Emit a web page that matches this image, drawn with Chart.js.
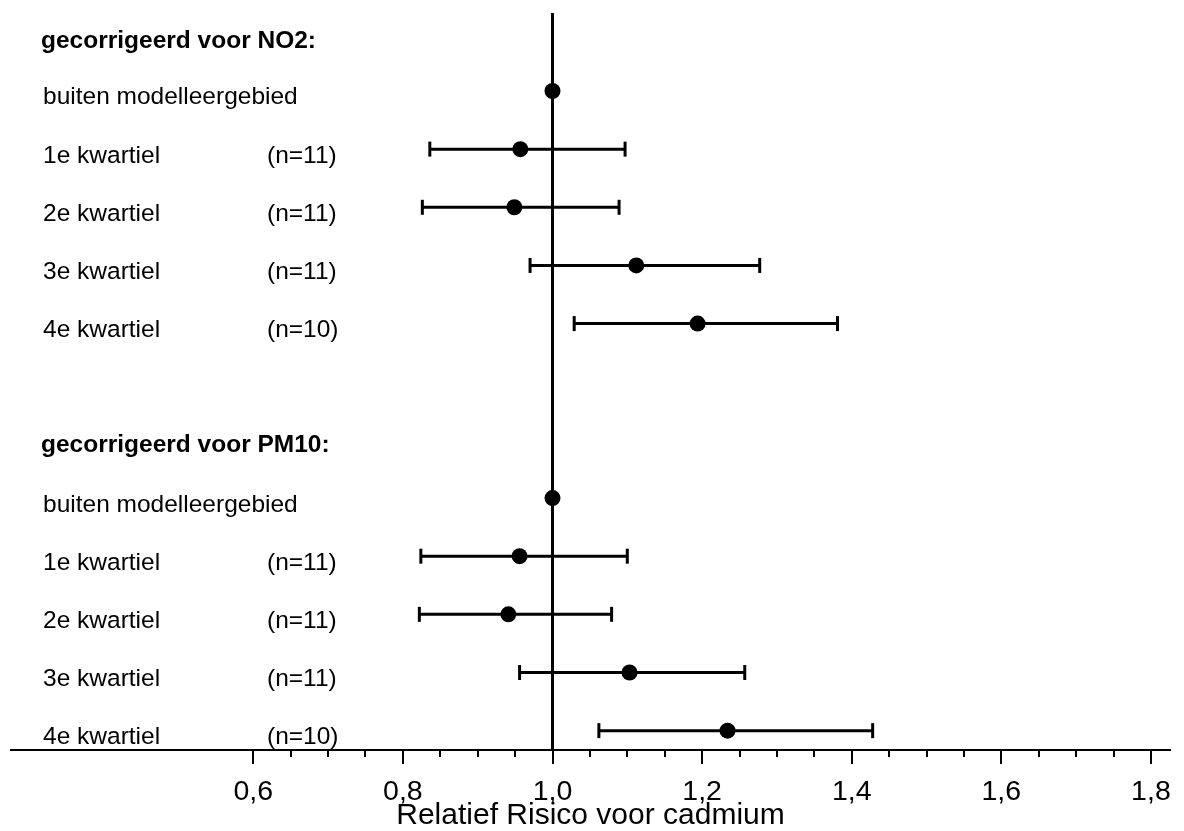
<!DOCTYPE html>
<html>
<head>
<meta charset="utf-8">
<title>Relatief Risico voor cadmium</title>
<script src="https://cdn.jsdelivr.net/npm/chart.js@4/dist/chart.umd.min.js"></script>
<style>
  html, body { margin: 0; padding: 0; background: #fff; }
  #wrap { position: relative; width: 1184px; height: 831px; }
</style>
</head>
<body>
<div id="wrap"><canvas id="forest"></canvas></div>
<script>
// Group headings and row labels
const groupTitles = ['gecorrigeerd voor NO2:', 'gecorrigeerd voor PM10:'];
const rowLabels = ['buiten modelleergebied', '1e kwartiel', '2e kwartiel', '3e kwartiel', '4e kwartiel'];
const rowCounts = ['', '(n=11)', '(n=11)', '(n=11)', '(n=10)'];

// Relative risks with 95% confidence limits (reference category has no interval)
const no2RR    = [1.000, 0.957, 0.949, 1.112, 1.194];
const no2Lower = [null,  0.836, 0.826, 0.970, 1.029];
const no2Upper = [null,  1.097, 1.089, 1.277, 1.381];

const pm10RR    = [1.000, 0.956, 0.941, 1.103, 1.234];
const pm10Lower = [null,  0.824, 0.822, 0.956, 1.062];
const pm10Upper = [null,  1.100, 1.079, 1.257, 1.428];

// Axis ticks
const xMajorTicks = [0.6, 0.8, 1.0, 1.2, 1.4, 1.6, 1.8];
const xTickLabels = ['0,6', '0,8', '1,0', '1,2', '1,4', '1,6', '1,8'];
const xMinorTicks = [0.65, 0.7, 0.75, 0.85, 0.9, 0.95, 1.05, 1.1, 1.15,
                     1.25, 1.3, 1.35, 1.45, 1.5, 1.55, 1.65, 1.7, 1.75];
const axisTitle = 'Relatief Risico voor cadmium';
const referenceRR = 1.0;

// Layout of rows on the vertical (row-index) scale
const groups = [
  { title: groupTitles[0], rr: no2RR,  lo: no2Lower,  hi: no2Upper },
  { title: groupTitles[1], rr: pm10RR, lo: pm10Lower, hi: pm10Upper }
];
const groupFirstRow = [0, 7];
const headerRow = [-0.96, 5.99];
const Y_MIN = -1.341, Y_MAX = 11.333;
const X_MIN = 0.2761, X_MAX = 1.8255;

const FONT = '"Liberation Sans", Arial, Helvetica, sans-serif';

const datasets = [];

// vertical line at RR = 1
datasets.push({
  data: [{ x: referenceRR, y: Y_MIN }, { x: referenceRR, y: Y_MAX }],
  showLine: true, borderColor: '#000', borderWidth: 3, pointRadius: 0
});

// confidence intervals with end caps
groups.forEach((g, gi) => {
  g.rr.forEach((v, i) => {
    if (g.lo[i] == null) return;
    const y = groupFirstRow[gi] + i;
    datasets.push({
      data: [{ x: g.lo[i], y }, { x: g.hi[i], y }],
      showLine: true, borderColor: '#000', borderWidth: 3,
      pointStyle: 'line', pointRotation: 90, pointRadius: 7.5,
      pointBorderWidth: 3, pointBorderColor: '#000', pointHoverRadius: 7.5
    });
  });
});

// point estimates
const estimates = [];
groups.forEach((g, gi) => g.rr.forEach((v, i) => estimates.push({ x: v, y: groupFirstRow[gi] + i })));
datasets.push({
  data: estimates, showLine: false, pointStyle: 'circle',
  pointRadius: 8, pointHoverRadius: 8, pointBorderWidth: 0,
  pointBackgroundColor: '#000', backgroundColor: '#000'
});

const rowText = {
  id: 'rowText',
  afterDraw(chart) {
    const ctx = chart.ctx;
    const ys = chart.scales.y;
    const xs = chart.scales.x;
    ctx.save();
    ctx.fillStyle = '#000';
    ctx.textAlign = 'left';
    ctx.textBaseline = 'alphabetic';
    groups.forEach((g, gi) => {
      ctx.font = 'bold 24.5px ' + FONT;
      ctx.fillText(g.title, 41, ys.getPixelForValue(headerRow[gi]) + 13);
      ctx.font = '24.5px ' + FONT;
      rowLabels.forEach((t, i) => {
        const y = ys.getPixelForValue(groupFirstRow[gi] + i) + 13.5;
        ctx.fillText(t, 43, y);
        if (rowCounts[i]) ctx.fillText(rowCounts[i], 267, y);
      });
    });
    // tick marks: long at labelled values, short in between
    const b = chart.chartArea.bottom;
    ctx.strokeStyle = '#000';
    ctx.lineWidth = 2;
    const mark = (v, len) => {
      const px = Math.round(xs.getPixelForValue(v));
      ctx.beginPath();
      ctx.moveTo(px, b);
      ctx.lineTo(px, b + len);
      ctx.stroke();
    };
    xMajorTicks.forEach(v => mark(v, 14));
    xMinorTicks.forEach(v => mark(v, 7));
    ctx.restore();
  }
};

new Chart(document.getElementById('forest'), {
  type: 'scatter',
  data: { datasets },
  options: {
    responsive: true,
    maintainAspectRatio: false,
    animation: false,
    layout: { padding: { left: 11, right: 14, top: 13, bottom: 0 } },
    plugins: { legend: { display: false }, tooltip: { enabled: false } },
    scales: {
      x: {
        type: 'linear',
        min: X_MIN, max: X_MAX,
        afterBuildTicks: s => { s.ticks = xMajorTicks.map(v => ({ value: v })); },
        afterFit: s => { s.height = 81; s.paddingLeft = 0; s.paddingRight = 0; },
        ticks: {
          autoSkip: false, maxRotation: 0, padding: 14, color: '#000',
          font: { family: FONT, size: 28.5, lineHeight: 1 },
          callback: (v, i) => xTickLabels[i]
        },
        grid: {
          display: true, drawOnChartArea: false, drawTicks: true,
          tickLength: 14, tickWidth: 2, tickColor: 'rgba(0,0,0,0)'
        },
        border: { display: true, color: '#000', width: 2 },
        title: {
          display: true, text: axisTitle, color: '#000',
          font: { family: FONT, size: 30, lineHeight: 1 },
          padding: { top: 0, bottom: 0 }
        }
      },
      y: {
        type: 'linear', reverse: true, min: Y_MIN, max: Y_MAX, display: false
      }
    }
  },
  plugins: [rowText]
});
</script>
</body>
</html>
